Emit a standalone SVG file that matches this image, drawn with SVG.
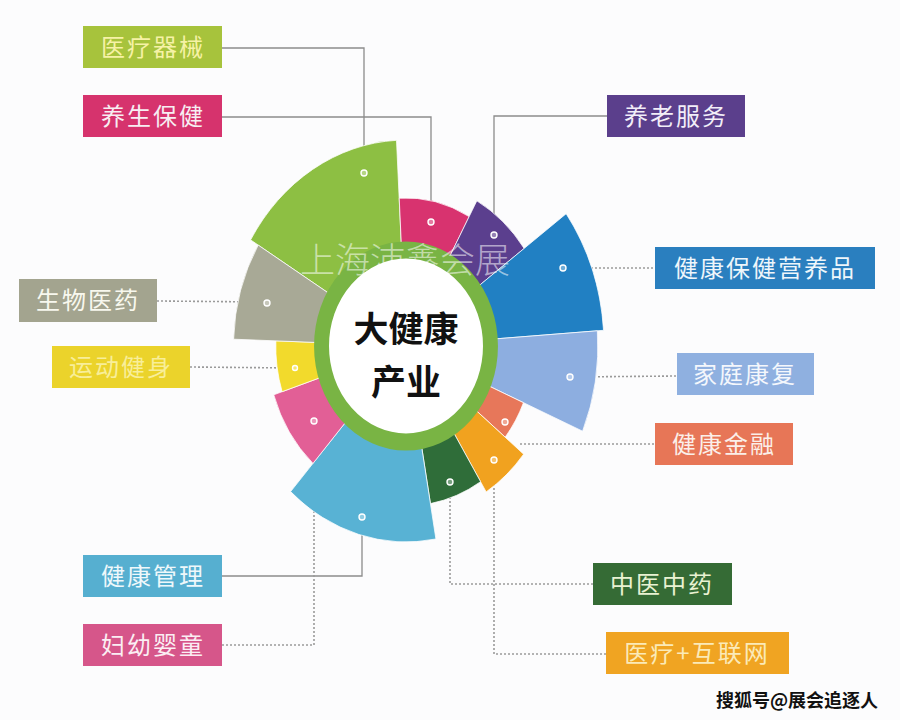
<svg xmlns="http://www.w3.org/2000/svg" width="900" height="720" viewBox="0 0 900 720">
<style>
.lbl{font-family:"Noto Sans CJK SC","Noto Sans",sans-serif;font-size:24px;text-anchor:middle;letter-spacing:2px;}
.solid{fill:none;stroke:#8c8c8c;stroke-width:1.3;}
.dot{fill:none;stroke:#9a9a9a;stroke-width:1.6;stroke-dasharray:2 2;}
.sec{stroke:#ffffff;stroke-width:0.8;}
.pin{fill:#ffffff;fill-opacity:0.35;stroke:#ffffff;stroke-width:1.4;}
</style>
<rect x="0" y="0" width="900" height="720" fill="#fcfcfd"/>

<g id="connectors">
  <polyline class="solid" points="222,48 364,48 364,173"/>
  <polyline class="solid" points="222,117 431,117 431,222"/>
  <polyline class="solid" points="607,116 494,116 494,235"/>
  <line class="dot" x1="563" y1="268" x2="655" y2="268"/>
  <line class="dot" x1="157" y1="301" x2="266" y2="302"/>
  <line class="dot" x1="190" y1="367" x2="294" y2="368"/>
  <line class="dot" x1="570" y1="377" x2="677" y2="376"/>
  <line class="dot" x1="520" y1="444" x2="655" y2="444"/>
  <polyline class="solid" points="222,576 362,576 362,517"/>
  <polyline class="dot" points="222,645 314,645 314,421"/>
  <polyline class="dot" points="593,584 450,584 450,482"/>
  <polyline class="dot" points="606,654 494,654 494,460"/>
</g>

<g id="wheel" transform="translate(406,346) scale(0.88,1)">
  <path id="s-qixie" class="sec" fill="#8dbf43" d="M0,0 L-176.6,-106.1 A206,206 0 0 1 -10.8,-205.7 Z"/>
  <path id="s-yangsheng" class="sec" fill="#d8336f" d="M0,0 L-7.7,-147.8 A148,148 0 0 1 71.8,-129.4 Z"/>
  <path id="s-yanglao" class="sec" fill="#5b3f8e" d="M0,0 L80.5,-145.2 A166,166 0 0 1 134.3,-97.6 Z"/>
  <path id="s-yingyang" class="sec" fill="#2180c3" d="M0,0 L182.0,-132.3 A225,225 0 0 1 224.5,-15.7 Z"/>
  <path id="s-kangfu" class="sec" fill="#8daee0" d="M0,0 L217.5,-15.2 A218,218 0 0 1 200.7,85.2 Z"/>
  <path id="s-jinrong" class="sec" fill="#e7775a" d="M0,0 L133.5,56.7 A145,145 0 0 1 112.7,91.2 Z"/>
  <path id="s-hulianwang" class="sec" fill="#f1a21f" d="M0,0 L133.7,108.2 A172,172 0 0 1 91.1,145.9 Z"/>
  <path id="s-zhongyi" class="sec" fill="#2f6d39" d="M0,0 L84.8,135.7 A160,160 0 0 1 27.8,157.6 Z"/>
  <path id="s-guanli" class="sec" fill="#58b2d4" d="M0,0 L34.0,193.0 A196,196 0 0 1 -131.1,145.6 Z"/>
  <path id="s-fuyou" class="sec" fill="#e25f96" d="M0,0 L-105.7,117.4 A158,158 0 0 1 -150.3,48.8 Z"/>
  <path id="s-yundong" class="sec" fill="#f2da2c" d="M0,0 L-140.8,45.7 A148,148 0 0 1 -147.9,-5.2 Z"/>
  <path id="s-shengwu" class="sec" fill="#a8a996" d="M0,0 L-195.9,-6.8 A196,196 0 0 1 -168.0,-100.9 Z"/>
  <circle cx="0" cy="0" r="96" fill="#ffffff" stroke="#79b444" stroke-width="17"/>
</g>

<g id="pins">
  <circle class="pin" cx="364" cy="173" r="3"/>
  <circle class="pin" cx="431" cy="222" r="3"/>
  <circle class="pin" cx="494" cy="235" r="3"/>
  <circle class="pin" cx="563" cy="268" r="3"/>
  <circle class="pin" cx="570" cy="377" r="3"/>
  <circle class="pin" cx="505" cy="422" r="3"/>
  <circle class="pin" cx="494" cy="460" r="3"/>
  <circle class="pin" cx="450" cy="482" r="3"/>
  <circle class="pin" cx="362" cy="517" r="3"/>
  <circle class="pin" cx="314" cy="421" r="3"/>
  <circle class="pin" cx="295" cy="368" r="2.5"/>
  <circle class="pin" cx="267" cy="303" r="3"/>
</g>

<g id="center">
  <text x="406" y="342" font-family="'Noto Sans CJK SC',sans-serif" font-size="35" font-weight="bold" text-anchor="middle" fill="#111">大健康</text>
  <text x="406" y="395" font-family="'Noto Sans CJK SC',sans-serif" font-size="35" font-weight="bold" text-anchor="middle" fill="#111">产业</text>
</g>

<text x="405" y="273" font-family="'Noto Sans CJK SC',sans-serif" font-size="35" font-weight="300" text-anchor="middle" fill="#ffffff" fill-opacity="0.55">上海沛鑫会展</text>

<g id="n-qixie"><rect x="83" y="26" width="139" height="42" fill="#a7c33c"/><text class="lbl" x="153" y="56" fill="#f6f2a6">医疗器械</text></g>
<g id="n-yangsheng"><rect x="83" y="95" width="139" height="42" fill="#d6336d"/><text class="lbl" x="153" y="125" fill="#f7eef2">养生保健</text></g>
<g id="n-yanglao"><rect x="607" y="95" width="138" height="42" fill="#5b3f8c"/><text class="lbl" x="676" y="125" fill="#f2eef8">养老服务</text></g>
<g id="n-yingyang"><rect x="655" y="247" width="220" height="42" fill="#2a7fbf"/><text class="lbl" x="765" y="277" fill="#eef6fb" letter-spacing="3">健康保健营养品</text></g>
<g id="n-shengwu"><rect x="19" y="279" width="138" height="43" fill="#a3a48f"/><text class="lbl" x="88" y="309" fill="#f8f8ee">生物医药</text></g>
<g id="n-yundong"><rect x="52" y="346" width="138" height="42" fill="#ebd32b"/><text class="lbl" x="121" y="376" fill="#f8ee99">运动健身</text></g>
<g id="n-kangfu"><rect x="677" y="353" width="137" height="42" fill="#8fb0e0"/><text class="lbl" x="745" y="383" fill="#f4f7fc">家庭康复</text></g>
<g id="n-jinrong"><rect x="655" y="423" width="138" height="42" fill="#e77657"/><text class="lbl" x="724" y="453" fill="#fbefe9">健康金融</text></g>
<g id="n-guanli"><rect x="83" y="555" width="139" height="42" fill="#56afd0"/><text class="lbl" x="153" y="585" fill="#eef8fb">健康管理</text></g>
<g id="n-fuyou"><rect x="83" y="624" width="139" height="42" fill="#d6568a"/><text class="lbl" x="153" y="654" fill="#fbeef3">妇幼婴童</text></g>
<g id="n-zhongyi"><rect x="593" y="563" width="139" height="42" fill="#356b35"/><text class="lbl" x="662" y="593" fill="#e9f2d2">中医中药</text></g>
<g id="n-hulianwang"><rect x="606" y="632" width="183" height="42" fill="#f0a422"/><text class="lbl" x="697" y="662" fill="#fbeab8">医疗+互联网</text></g>

<text x="797" y="707" font-family="'Noto Sans CJK SC',sans-serif" font-size="18" font-weight="bold" text-anchor="middle" fill="#111" stroke="#ffffff" stroke-width="0.6" paint-order="stroke">搜狐号@展会追逐人</text>
</svg>
